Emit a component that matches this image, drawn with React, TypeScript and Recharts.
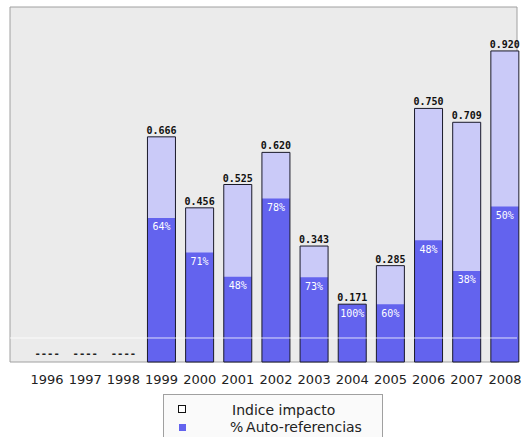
import React from 'react';
import { BarChart, Bar, XAxis, YAxis, LabelList, Legend, ReferenceLine, ReferenceArea, ReferenceDot } from 'recharts';

const years = ['1996', '1997', '1998', '1999', '2000', '2001', '2002', '2003', '2004', '2005', '2006', '2007', '2008'];
const impactIndex: (number | null)[] = [null, null, null, 0.666, 0.456, 0.525, 0.62, 0.343, 0.171, 0.285, 0.75, 0.709, 0.92];
const selfCitePct: (number | null)[] = [null, null, null, 64, 71, 48, 78, 73, 100, 60, 48, 38, 50];
const yDomain: [number, number] = [0, 1.05];
const whiteLineValue = 0.071;

const data = years.map((year, i) => {
  const v = impactIndex[i];
  const p = selfCitePct[i];
  return {
    year,
    total: v == null ? 0 : v,
    self: v == null || p == null ? 0 : (v * p) / 100,
    pct: p,
  };
});

const missingYears = years.filter((_, i) => impactIndex[i] == null);

const LIGHT = '#CACAF8';
const DARK = '#6363EE';
const FRAME = '#A0A0A0';
const PLOT_BG = '#EBEBEB';

const ValueLabel = (props: any) => {
  const { x, y, width, value } = props;
  if (value == null || Number(value) === 0) return null;
  const cx = Number(x) + Number(width) / 2;
  return (
    <text x={cx} y={Number(y) - 3} textAnchor="middle" fontFamily="DejaVu Sans Mono" fontSize={10} fontWeight="bold" fill="#111">
      {Number(value).toFixed(3)}
    </text>
  );
};

const PctLabel = (props: any) => {
  const { x, y, width, value } = props;
  if (value == null) return null;
  const cx = Number(x) + Number(width) / 2;
  return (
    <text x={cx} y={Number(y) + 12.5} textAnchor="middle" fontFamily="DejaVu Sans Mono" fontSize={10} fill="#FFFFFF">
      {value + '%'}
    </text>
  );
};

const DashLabel = (props: any) => {
  const vb = props.viewBox || {};
  const cx = Number(vb.x) + (Number(vb.width) || 0) / 2;
  return (
    <text x={cx} y={Number(vb.y) - 5} textAnchor="middle" fontFamily="DejaVu Sans Mono" fontSize={10.5} fontWeight="bold" fill="#222">
      ----
    </text>
  );
};

const renderLegend = () => (
  <div style={{ position: 'relative', width: 524, height: 43 }}>
    <div
      style={{
        position: 'absolute',
        left: 163,
        top: 0,
        width: 220,
        height: 50,
        border: '1px solid #A0A0A0',
        background: '#FAFAFA',
        boxSizing: 'border-box',
        fontFamily: 'DejaVu Sans',
        fontSize: 14,
        color: '#222',
      }}
    >
      <div style={{ position: 'absolute', left: 14, top: 10, width: 8, height: 8, border: '1.5px solid #111', background: '#fff', boxSizing: 'border-box' }} />
      <div style={{ position: 'absolute', left: 68, top: 7, lineHeight: '16px', whiteSpace: 'nowrap' }}>Indice impacto</div>
      <div style={{ position: 'absolute', left: 15, top: 29, width: 7, height: 7, background: DARK }} />
      <div style={{ position: 'absolute', left: 66, top: 24, lineHeight: '16px', whiteSpace: 'nowrap' }}>%&thinsp;Auto-referencias</div>
    </div>
  </div>
);

export default function App() {
  return (
    <div style={{ position: 'absolute', left: 0, top: 0, width: 524, height: 437, background: '#fff' }}>
      <BarChart
        width={524}
        height={437}
        data={data}
        margin={{ top: 7, right: 7, left: 10, bottom: 0 }}
        barGap={-28}
      >
        <XAxis
          dataKey="year"
          height={32}
          padding={{ left: 18, right: -7 }}
          tickLine={false}
          tickMargin={7}
          axisLine={false}
          interval={0}
          tick={{ fontFamily: 'DejaVu Sans', fontSize: 13, fill: '#222' }}
        />
        <XAxis xAxisId="frame" dataKey="year" orientation="top" height={0} hide />
        <YAxis width={0} domain={yDomain} hide />
        <ReferenceArea
          xAxisId="frame"
          y1={yDomain[0]}
          y2={yDomain[1]}
          fill={PLOT_BG}
          fillOpacity={1}
          stroke={FRAME}
          strokeWidth={1}
          ifOverflow="visible"
        />
        <Bar dataKey="total" fill={LIGHT} barSize={28} isAnimationActive={false} />
        <Bar dataKey="self" fill={DARK} barSize={28} isAnimationActive={false}>
          <LabelList dataKey="pct" content={PctLabel} />
        </Bar>
        <Bar dataKey="total" fill="none" stroke="#1A1A2A" strokeWidth={1} barSize={28} isAnimationActive={false}>
          <LabelList dataKey="total" content={ValueLabel} />
        </Bar>
        {missingYears.map((yr) => (
          <ReferenceDot key={yr} x={yr} y={0} r={0} fill="none" stroke="none" label={DashLabel} />
        ))}
        <ReferenceLine y={whiteLineValue} stroke="#FFFFFF" strokeOpacity={0.8} strokeWidth={1} />
        <Legend verticalAlign="bottom" content={renderLegend} wrapperStyle={{ left: 0, width: 524, bottom: 0 }} />
      </BarChart>
    </div>
  );
}
